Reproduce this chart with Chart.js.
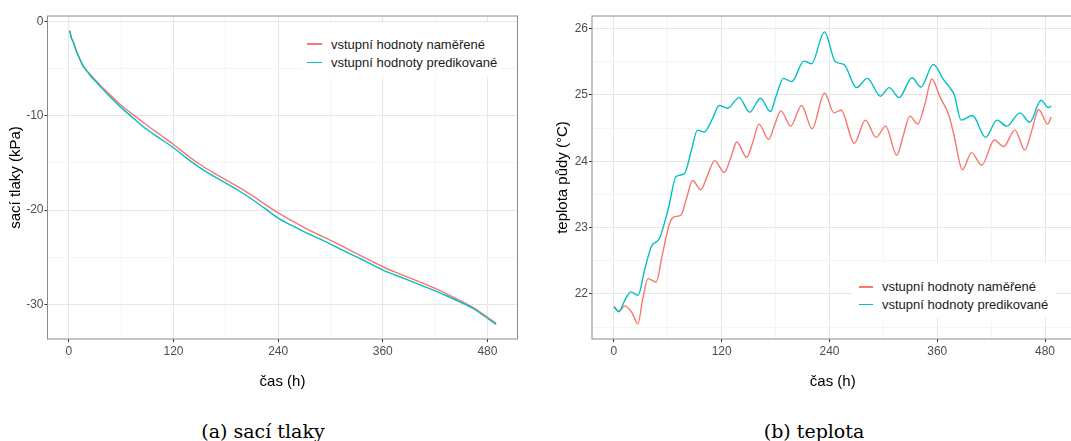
<!DOCTYPE html>
<html lang="cs">
<head>
<meta charset="utf-8">
<script src="https://cdn.jsdelivr.net/npm/chart.js@4.4.1/dist/chart.umd.min.js"></script>
<style>
  body {
    margin: 0;
    width: 1071px;
    height: 441px;
    overflow: hidden;
    background: #fff;
    position: relative;
    font-family: "Liberation Sans", Arial, sans-serif;
  }
  canvas { position: absolute; top: 0; }
  #chartA { left: 0; }
  #chartB { left: 540px; }
  .legend { position: absolute; background: #fff; box-sizing: border-box; }
  .legend .row {
    display: flex;
    align-items: center;
    font-size: 13px;
    color: #1a1a1a;
    white-space: nowrap;
  }
  .legend .key { height: 1.5px; margin-right: 9px; }
  #legendA { left: 302px; top: 22px; width: 198px; height: 55px; padding: 13px 0 0 5px; }
  #legendA .row { height: 18.4px; }
  #legendA .key { width: 15px; }
  #legendB { left: 852px; top: 263px; width: 203px; height: 55px; padding: 15px 0 0 7px; }
  #legendB .row { height: 17.6px; }
  #legendB .key { width: 14px; }
  .caption {
    position: absolute;
    top: 420px;
    font-family: "DejaVu Serif", serif;
    font-size: 19px;
    line-height: 22px;
    transform: translateX(-50%);
    white-space: nowrap;
  }
</style>
</head>
<body>
<canvas id="chartA" width="530" height="400"></canvas>
<canvas id="chartB" width="545" height="400"></canvas>
<div class="legend" id="legendA"></div>
<div class="legend" id="legendB"></div>
<div class="caption" style="left:263px">(a) sací tlaky</div>
<div class="caption" style="left:814px">(b) teplota</div>

<script>
const seriesLabels = ["vstupní hodnoty naměřené", "vstupní hodnoty predikované"];
const seriesColors = ["#F8766D", "#00BFC4"];

// (a) saci tlaky
const tA = [1, 3, 5, 8, 12, 16, 20, 25, 30, 35, 45, 60, 75, 90, 105, 120, 135, 150, 165, 180,
  195, 210, 225, 240, 255, 270, 285, 300, 315, 330, 345, 360, 375, 390, 405, 420, 435, 450, 465, 480, 490];
const measA = [-1.0, -1.8, -2.2, -3.0, -3.9, -4.65, -5.15, -5.7, -6.2, -6.7, -7.6, -8.9, -10.0, -11.05,
  -12.05, -13.05, -14.15, -15.15, -16.0, -16.8, -17.6, -18.45, -19.4, -20.3, -21.1, -21.85, -22.55,
  -23.2, -23.9, -24.6, -25.3, -26.0, -26.6, -27.15, -27.7, -28.3, -28.95, -29.65, -30.4, -31.35, -32.0];
const predA = [-1.0, -1.8, -2.2, -3.0, -3.9, -4.7, -5.2, -5.8, -6.3, -6.8, -7.8, -9.15, -10.35, -11.5,
  -12.45, -13.4, -14.5, -15.5, -16.35, -17.15, -17.95, -18.85, -19.85, -20.85, -21.6, -22.3, -22.95,
  -23.6, -24.3, -24.95, -25.65, -26.35, -26.9, -27.45, -28.0, -28.55, -29.15, -29.8, -30.5, -31.45, -32.1];

// (b) teplota
const tMeasB = [0, 5.5, 12, 20, 26.8, 32, 38, 47, 54, 62, 67, 74.7, 81, 87.6, 96.8, 104, 112.2, 122.9,
  130, 136.8, 147.8, 155, 161.4, 172.3, 179, 185.9, 196.9, 208.9, 220.6, 234.5, 245, 253, 267.6, 280,
  292, 302.5, 314.9, 322, 329.6, 338.3, 346, 354, 363, 373, 379, 388, 398.2, 409.5, 423.6, 433.8,
  446.5, 457.5, 465, 473, 482.9, 487];
const measB = [21.8, 21.74, 21.82, 21.72, 21.55, 21.92, 22.23, 22.18, 22.6, 23.06, 23.16, 23.19, 23.45,
  23.71, 23.57, 23.78, 24.01, 23.83, 24.05, 24.29, 24.06, 24.3, 24.56, 24.33, 24.55, 24.76, 24.53, 24.84,
  24.49, 25.03, 24.73, 24.77, 24.27, 24.62, 24.36, 24.53, 24.09, 24.38, 24.68, 24.56, 24.85, 25.24,
  24.97, 24.69, 24.37, 23.87, 24.13, 23.94, 24.32, 24.22, 24.47, 24.17, 24.45, 24.78, 24.56, 24.67];
const tPredB = [0, 5.5, 12, 18.8, 26.9, 34, 41.6, 50.8, 61, 69.2, 78.4, 86, 93.1, 100.5, 110, 117,
  126.6, 139.4, 151.1, 163.2, 174.2, 181, 188.8, 198, 211.5, 219.9, 234.5, 246.5, 256, 270.2, 282.2,
  296.7, 306.5, 317.5, 332, 341.8, 355.6, 367, 374, 379, 386.5, 399.3, 413.8, 426.5, 437.5, 452, 463,
  475.6, 483.6, 487];
const predB = [21.81, 21.73, 21.9, 22.03, 21.98, 22.35, 22.71, 22.84, 23.31, 23.77, 23.81, 24.15, 24.47,
  24.44, 24.65, 24.84, 24.8, 24.96, 24.74, 24.95, 24.75, 25.0, 25.25, 25.2, 25.51, 25.47, 25.95, 25.5,
  25.46, 25.11, 25.25, 24.98, 25.11, 24.96, 25.26, 25.12, 25.46, 25.23, 25.11, 25.0, 24.62, 24.69,
  24.36, 24.62, 24.53, 24.73, 24.59, 24.92, 24.81, 24.83];

const xTicks = [0, 60, 120, 180, 240, 300, 360, 420, 480];
const yTicksA = [-30, -25, -20, -15, -10, -5, 0];
const yTicksB = [21.5, 22, 22.5, 23, 23.5, 24, 24.5, 25, 25.5, 26];

const toPoints = (xs, ys) => xs.map((x, i) => ({ x: x, y: ys[i] }));

// ramecek panelu jako v theme_bw
const panelBorder = {
  id: "panelBorder",
  afterDraw(chart) {
    const { ctx, chartArea: a } = chart;
    ctx.save();
    ctx.strokeStyle = "#8a8a8a";
    ctx.lineWidth = 1;
    ctx.strokeRect(a.left, a.top, a.right - a.left, a.bottom - a.top);
    ctx.restore();
  },
};

function axis(opts) {
  const isMajor = opts.isMajor;
  return {
    type: "linear",
    min: opts.min,
    max: opts.max,
    afterFit: opts.fit,
    afterBuildTicks: (s) => { s.ticks = opts.ticks.map((v) => ({ value: v })); },
    border: { display: false },
    grid: {
      color: (c) => (c.tick && isMajor(c.tick.value) ? "#e6e6e6" : "#f4f4f4"),
      tickColor: (c) => (c.tick && isMajor(c.tick.value) ? "#333" : "rgba(0,0,0,0)"),
      tickLength: 3,
      lineWidth: 1,
    },
    ticks: {
      autoSkip: false,
      maxRotation: 0,
      padding: opts.tickPad,
      color: "#4d4d4d",
      font: { family: "'Liberation Sans', Arial, sans-serif", size: 12 },
      callback: (v) => (isMajor(v) ? String(v) : ""),
    },
    title: {
      display: true,
      text: opts.title,
      color: "#000",
      font: { family: "'Liberation Sans', Arial, sans-serif", size: 15 },
      padding: opts.titlePad,
    },
  };
}

function makeChart(id, data, o) {
  const datasets = data.map((d, i) => ({
    label: seriesLabels[i],
    data: d,
    borderColor: seriesColors[i],
    borderWidth: 1.4,
    pointRadius: 0,
    fill: false,
    cubicInterpolationMode: "monotone",
    order: i === 0 ? 1 : 0,
  }));
  return new Chart(document.getElementById(id).getContext("2d"), {
    type: "line",
    data: { datasets },
    options: {
      responsive: false,
      animation: false,
      layout: { padding: { left: 0, top: 16, right: o.padRight, bottom: 0 } },
      plugins: { legend: { display: false }, tooltip: { enabled: false } },
      scales: {
        x: axis({
          min: o.xMin, max: o.xMax, ticks: xTicks,
          isMajor: (v) => v % 120 === 0,
          fit: (s) => { s.height = 61; },
          tickPad: 2,
          title: "čas (h)",
          titlePad: { bottom: 9 },
        }),
        y: axis({
          min: o.yMin, max: o.yMax, ticks: o.yTicks,
          isMajor: o.yMajor,
          fit: (s) => { s.width = o.yWidth; },
          tickPad: 1,
          title: o.yTitle,
          titlePad: { top: o.yTitlePad },
        }),
      },
    },
    plugins: [panelBorder],
  });
}

function buildLegend(id, chart) {
  document.getElementById(id).innerHTML = chart.data.datasets
    .map((d) => `<div class="row"><span class="key" style="background:${d.borderColor}"></span>${d.label}</div>`)
    .join("");
}

const chartA = makeChart("chartA", [toPoints(tA, measA), toPoints(tA, predA)], {
  xMin: -24.5, xMax: 514.5, yMin: -33.65, yMax: 0.55, yTicks: yTicksA,
  yMajor: (v) => v % 10 === 0, yWidth: 47.5, yTitle: "sací tlaky (kPa)", yTitlePad: 7, padRight: 12.5,
});

const chartB = makeChart("chartB", [toPoints(tMeasB, measB), toPoints(tPredB, predB)], {
  xMin: -24.4, xMax: 511.7, yMin: 21.32, yMax: 26.19, yTicks: yTicksB,
  yMajor: (v) => Number.isInteger(v), yWidth: 52, yTitle: "teplota půdy (°C)", yTitlePad: 14, padRight: 11.5,
});

buildLegend("legendA", chartA);
buildLegend("legendB", chartB);
</script>
</body>
</html>
